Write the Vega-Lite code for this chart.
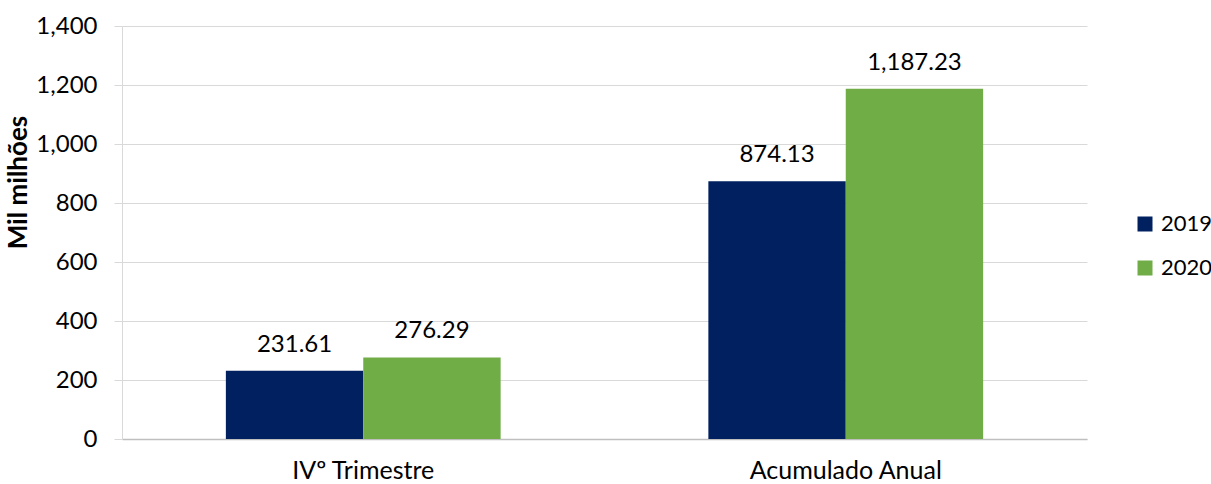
{
  "$schema": "https://vega.github.io/schema/vega-lite/v6.json",
  "width": 965,
  "height": 413,
  "autosize": "none",
  "padding": {"left": 122, "top": 26, "right": 124, "bottom": 45},
  "background": "white",
  "config": {
    "font": "Lato",
    "view": {"stroke": null},
    "axis": {"labelFont": "Lato", "titleFont": "Lato", "labelColor": "#000000", "titleColor": "#000000"}
  },
  "data": {
    "values": [
      {"periodo": "IVº Trimestre", "ano": "2019", "valor": 231.61},
      {"periodo": "IVº Trimestre", "ano": "2020", "valor": 276.29},
      {"periodo": "Acumulado Anual", "ano": "2019", "valor": 874.13},
      {"periodo": "Acumulado Anual", "ano": "2020", "valor": 1187.23}
    ]
  },
  "encoding": {
    "x": {
      "field": "periodo", "type": "nominal", "sort": null,
      "scale": {"paddingInner": 0, "paddingOuter": 0},
      "axis": {
        "title": null, "labelAngle": 0, "labelFontSize": 25, "labelPadding": 19, "labelLimit": 400,
        "ticks": false, "domainColor": "#bfbfbf", "domainWidth": 1.5
      }
    },
    "xOffset": {"field": "ano", "type": "nominal", "scale": {"paddingInner": 0, "paddingOuter": 0.756}},
    "y": {
      "field": "valor", "type": "quantitative",
      "scale": {"domain": [0, 1400], "nice": false},
      "axis": {
        "title": "Mil milhões", "titleFontSize": 26, "titleFontWeight": "bold",
        "titleAngle": -90, "titleX": -104, "titleY": 156, "titleAlign": "center", "titleBaseline": "middle",
        "values": [0, 200, 400, 600, 800, 1000, 1200, 1400],
        "format": ",d", "labelFontSize": 24, "labelPadding": 17,
        "tickSize": 8, "tickColor": "#d9d9d9", "gridColor": "#d9d9d9", "grid": true,
        "domainColor": "#d9d9d9"
      }
    }
  },
  "layer": [
    {
      "mark": {"type": "bar"},
      "encoding": {
        "color": {
          "field": "ano", "type": "nominal",
          "scale": {"domain": ["2019", "2020"], "range": ["#002060", "#70AD47"]},
          "legend": {
            "title": null, "orient": "none", "legendX": 1012, "legendY": 187,
            "symbolType": "square", "symbolSize": 225, "symbolStrokeWidth": 0,
            "labelFontSize": 22, "labelFont": "Lato", "labelColor": "#000000",
            "rowPadding": 22, "labelOffset": 5, "labelLimit": 200
          }
        }
      }
    },
    {
      "mark": {"type": "text", "baseline": "middle", "dy": -26, "fontSize": 24, "font": "Lato", "color": "#000000"},
      "encoding": {
        "text": {"field": "valor", "type": "quantitative", "format": ",.2f"}
      }
    }
  ]
}
